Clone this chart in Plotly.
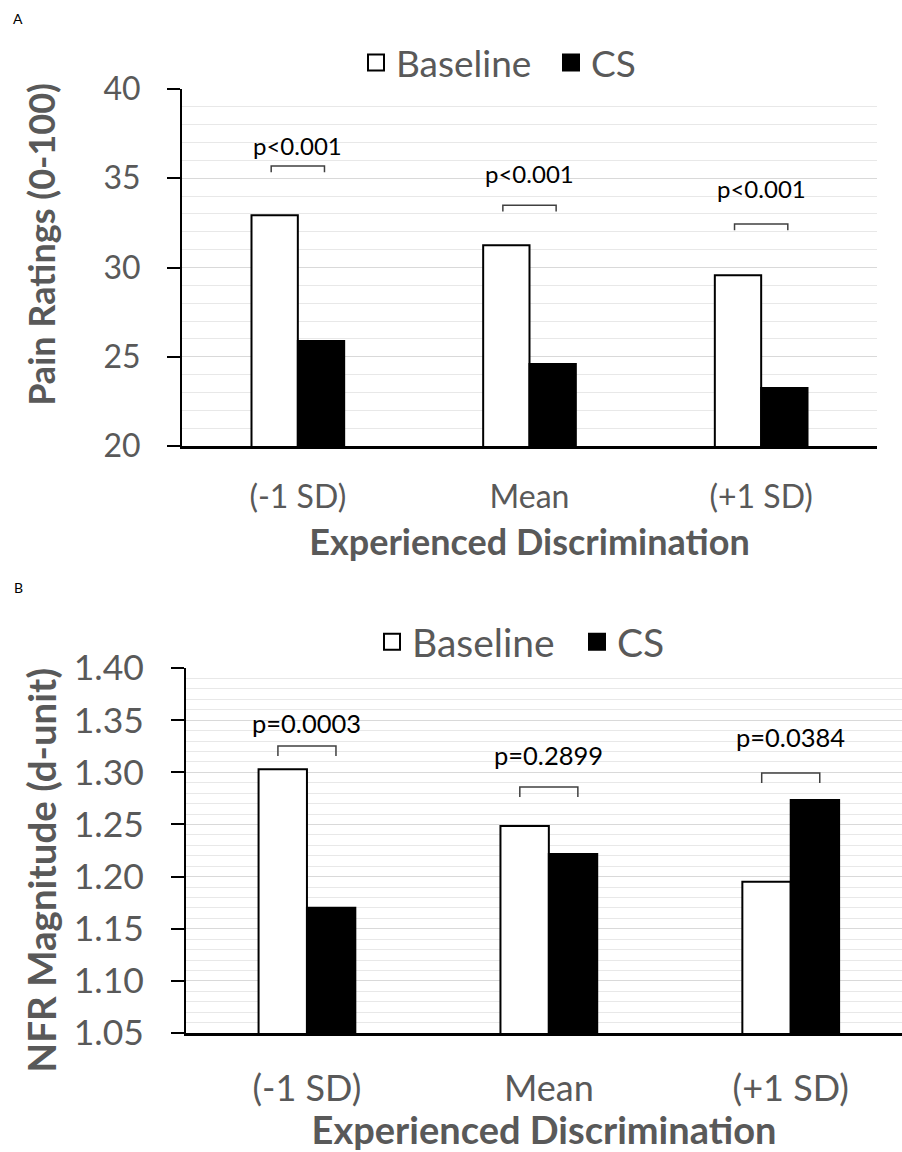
import plotly.graph_objects as go

# ---------------- data ----------------
categories = ["(-1 SD)", "Mean", "(+1 SD)"]
series_names = ["Baseline", "CS"]

pain_baseline = [32.93, 31.25, 29.57]
pain_cs = [25.88, 24.59, 23.25]
pain_p_labels = ["p<0.001", "p<0.001", "p<0.001"]

nfr_baseline = [1.303, 1.2485, 1.195]
nfr_cs = [1.170, 1.2216, 1.2734]
nfr_p_labels = ["p=0.0003", "p=0.2899", "p=0.0384"]

pain_tickvals = [20, 25, 30, 35, 40]
nfr_tickvals = [1.05, 1.10, 1.15, 1.20, 1.25, 1.30, 1.35, 1.40]
nfr_ticktext = ["1.05", "1.10", "1.15", "1.20", "1.25", "1.30", "1.35", "1.40"]

# annotation placement (value units)
pain_p_text_y = [36.85, 35.29, 34.45]
pain_bracket_y = [35.68, 33.49, 32.43]
nfr_p_text_y = [1.3472, 1.3165, 1.3338]
nfr_bracket_y = [1.3252, 1.2859, 1.2993]

# ---------------- layout constants ----------------
W, H = 902, 1152
FONT = "Lato"
GRAY = "#595959"
NB = "&nbsp;"

fig = go.Figure()

def add_bars(xa, ya, base_vals, cs_vals):
    fig.add_trace(go.Bar(x=categories, y=base_vals, name=series_names[0],
                         marker=dict(color="white", line=dict(color="black", width=2)),
                         showlegend=False, xaxis=xa, yaxis=ya))
    fig.add_trace(go.Bar(x=categories, y=cs_vals, name=series_names[1],
                         marker=dict(color="black", line=dict(color="black", width=2)),
                         showlegend=False, xaxis=xa, yaxis=ya))

add_bars("x", "y", pain_baseline, pain_cs)
add_bars("x2", "y2", nfr_baseline, nfr_cs)

# legend entries
for leg, xa, ya in [("legend", "x", "y"), ("legend2", "x2", "y2")]:
    fig.add_trace(go.Scatter(x=[None], y=[None], mode="markers", name=series_names[0],
                             marker=dict(symbol="square", size=20, color="white",
                                         line=dict(color="black", width=2)),
                             legend=leg, xaxis=xa, yaxis=ya, hoverinfo="skip"))
    fig.add_trace(go.Scatter(x=[None], y=[None], mode="markers", name=series_names[1],
                             marker=dict(symbol="square", size=20, color="black",
                                         line=dict(color="black", width=2)),
                             legend=leg, xaxis=xa, yaxis=ya, hoverinfo="skip"))

shapes = []
annotations = []

def add_brackets(xref, yref, text_y, bracket_y, labels, half, leg, fsize):
    for i, lab in enumerate(labels):
        x0, x1 = i - half, i + half
        yt = bracket_y[i]
        yb = yt - leg
        shapes.append(dict(type="path", xref=xref, yref=yref,
                           path=f"M {x0},{yb} L {x0},{yt} L {x1},{yt} L {x1},{yb}",
                           line=dict(color="#404040", width=1.5)))
        annotations.append(dict(x=i, y=text_y[i], xref=xref, yref=yref, text=lab,
                                showarrow=False, xanchor="center", yanchor="middle",
                                font=dict(family=FONT, size=fsize, color="black")))

add_brackets("x", "y", pain_p_text_y, pain_bracket_y, pain_p_labels, 0.115, 0.35, 24)
add_brackets("x2", "y2", nfr_p_text_y, nfr_bracket_y, nfr_p_labels, 0.12, 0.0096, 25.5)

annotations.append(dict(x=18 / W, y=1 - 18 / H, xref="paper", yref="paper", text="A",
                        showarrow=False, xanchor="center", yanchor="middle",
                        font=dict(family=FONT, size=14, color="black")))
annotations.append(dict(x=18 / W, y=1 - 587 / H, xref="paper", yref="paper", text="B",
                        showarrow=False, xanchor="center", yanchor="middle",
                        font=dict(family=FONT, size=14, color="black")))

def xaxis_style(fsize, standoff):
    return dict(type="category", showline=True, linecolor="black", linewidth=2.5,
                ticks="", showgrid=False, zeroline=False, automargin=False,
                tickfont=dict(family=FONT, size=fsize, color=GRAY),
                ticklabelstandoff=standoff)

def yaxis_style(fsize):
    return dict(showline=True, linecolor="black", linewidth=2,
                ticks="outside", ticklen=13, tickwidth=2, tickcolor="black",
                showgrid=True, gridcolor="#D9D9D9", gridwidth=1, zeroline=False,
                automargin=False,
                tickfont=dict(family=FONT, size=fsize, color=GRAY),
                ticklabelstandoff=20)

fig.update_layout(
    width=W, height=H, autosize=False,
    margin=dict(l=0, r=0, t=0, b=0, pad=0),
    paper_bgcolor="white", plot_bgcolor="white",
    barmode="group", bargap=0.6, bargroupgap=0,
    font=dict(family=FONT, color=GRAY),
    xaxis=dict(**xaxis_style(32, 21), domain=[182 / W, 877 / W], anchor="y", range=[-0.5, 2.5],
               title=dict(text="<b>Experienced Discrimination</b>", standoff=16,
                          font=dict(family=FONT, size=36, color=GRAY))),
    yaxis=dict(**yaxis_style(32), domain=[1 - 446 / H, 1 - 89 / H], anchor="x",
               range=[20, 40], tickvals=pain_tickvals,
               minor=dict(dtick=1, tick0=20, showgrid=True, gridcolor="#E8E8E8", gridwidth=1, ticks=""),
               title=dict(text=NB * 5 + "<b>Pain Ratings (0-100)</b>", standoff=37,
                          font=dict(family=FONT, size=36, color=GRAY))),
    xaxis2=dict(**xaxis_style(36, 22), domain=[186 / W, 1.0], anchor="y2", range=[-0.5, 2.46],
                title=dict(text="<b>Experienced Discrimination</b>", standoff=14,
                           font=dict(family=FONT, size=38, color=GRAY))),
    yaxis2=dict(**yaxis_style(35.5), domain=[1 - 1033 / H, 1 - 668 / H], anchor="x2",
                range=[1.05, 1.40], tickvals=nfr_tickvals, ticktext=nfr_ticktext,
                minor=dict(dtick=0.01, tick0=1.05, showgrid=True, gridcolor="#E8E8E8", gridwidth=1, ticks=""),
                title=dict(text="<b>NFR Magnitude (d-unit)</b>" + NB * 4, standoff=5,
                           font=dict(family=FONT, size=38.5, color=GRAY))),
    legend=dict(orientation="h", x=356 / W, xanchor="left", y=1 - 63 / H, yanchor="middle",
                font=dict(family=FONT, size=37, color=GRAY), itemsizing="trace",
                entrywidth=150, entrywidthmode="pixels",
                bgcolor="rgba(0,0,0,0)"),
    legend2=dict(orientation="h", x=372 / W, xanchor="left", y=1 - 642 / H, yanchor="middle",
                 font=dict(family=FONT, size=39, color=GRAY), itemsizing="trace",
                 entrywidth=160, entrywidthmode="pixels",
                 bgcolor="rgba(0,0,0,0)"),
    shapes=shapes,
    annotations=annotations,
)

fig.write_html("out.html", config={"displayModeBar": False},
               post_script="document.body.style.margin='0px';")
